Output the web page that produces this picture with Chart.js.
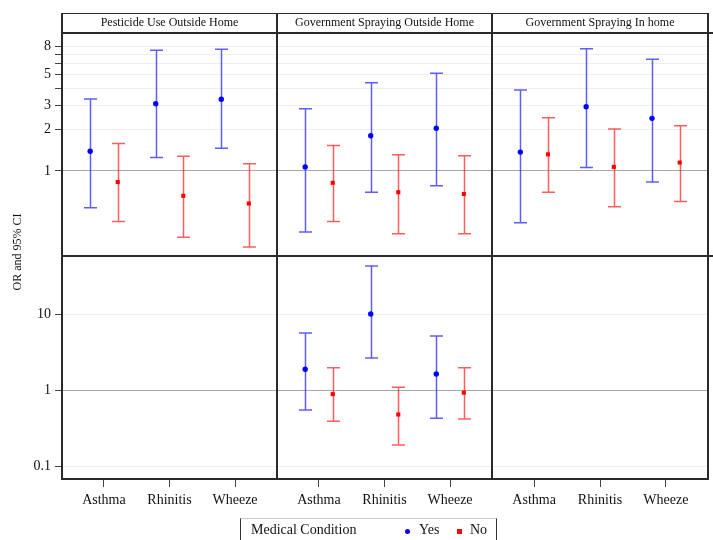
<!DOCTYPE html>
<html>
<head>
<meta charset="utf-8">
<script src="https://cdn.jsdelivr.net/npm/chart.js@4.4.1/dist/chart.umd.min.js"></script>
<style>
  body { margin: 0; background: #fff; }
  #wrap { position: relative; width: 713px; height: 540px; overflow: hidden; font-family: "Liberation Serif", serif; color: #111; }
  canvas { position: absolute; }
  .ln { position: absolute; background: #2a2a2a; }
  .hdr { position: absolute; top: 13px; height: 20px; line-height: 19px; text-align: center; font-size: 12px; }
  #ytitle { position: absolute; left: -43px; top: 244px; width: 120px; height: 16px; line-height: 16px; text-align: center; font-size: 12px; white-space: nowrap; color: #111; transform: rotate(-90deg); transform-origin: 60px 8px; }
  #legend { position: absolute; left: 240px; top: 518px; width: 255px; height: 26px; border-left: 1px solid #333; border-right: 1px solid #333; border-top: 1px solid #ccc; font-size: 14px; }
  #legend span { position: absolute; top: 3px; }
  .dot { position: absolute; top: 10px; width: 5px; height: 5px; border-radius: 50%; background: #0000ff; }
  .sq { position: absolute; top: 10px; width: 5px; height: 5px; background: #ff0000; }
</style>
</head>
<body>
<div id="wrap">
  <canvas id="c00" width="277" height="223" style="left:0;top:33px"></canvas>
  <canvas id="c01" width="215" height="223" style="left:277px;top:33px"></canvas>
  <canvas id="c02" width="216" height="223" style="left:492px;top:33px"></canvas>
  <canvas id="c10" width="277" height="263" style="left:0;top:257px"></canvas>
  <canvas id="c11" width="215" height="263" style="left:277px;top:257px"></canvas>
  <canvas id="c12" width="216" height="263" style="left:492px;top:257px"></canvas>
  <div id="frame"></div>
  <div id="ytitle">OR and 95% CI</div>
  <div id="legend">
    <span style="left:10px">Medical Condition</span>
    <div class="dot" style="left:164px"></div><span style="left:178px">Yes</span>
    <div class="sq" style="left:216px"></div><span style="left:229px">No</span>
  </div>
</div>
<script>
const conditions = ['Asthma', 'Rhinitis', 'Wheeze'];
const panelTitles = ['Pesticide Use Outside Home', 'Government Spraying Outside Home', 'Government Spraying In home'];
const topTicks = [1, 2, 3, 4, 5, 6, 7, 8];
const topLabels = [1, 2, 3, 5, 8];
const bottomTicks = [0.1, 1, 10];

// top row: Pesticide Use Outside Home
const pestYesOR = [1.39, 3.08, 3.32];
const pestYesLow = [0.54, 1.25, 1.46];
const pestYesHigh = [3.33, 7.52, 7.65];
const pestNoOR = [0.83, 0.66, 0.58];
const pestNoLow = [0.43, 0.33, 0.28];
const pestNoHigh = [1.58, 1.28, 1.13];

// top row: Government Spraying Outside Home
const govOutYesOR = [1.07, 1.80, 2.04];
const govOutYesLow = [0.36, 0.70, 0.78];
const govOutYesHigh = [2.83, 4.38, 5.12];
const govOutNoOR = [0.82, 0.70, 0.68];
const govOutNoLow = [0.43, 0.35, 0.35];
const govOutNoHigh = [1.53, 1.31, 1.29];

// top row: Government Spraying In home
const govInYesOR = [1.37, 2.93, 2.41];
const govInYesLow = [0.42, 1.06, 0.83];
const govInYesHigh = [3.88, 7.73, 6.47];
const govInNoOR = [1.32, 1.07, 1.15];
const govInNoLow = [0.70, 0.55, 0.60];
const govInNoHigh = [2.43, 2.02, 2.13];

// bottom row, only the middle panel has data
const row2YesOR = [1.89, 10.1, 1.64];
const row2YesLow = [0.55, 2.66, 0.43];
const row2YesHigh = [5.68, 43.2, 5.18];
const row2NoOR = [0.89, 0.48, 0.93];
const row2NoLow = [0.39, 0.19, 0.42];
const row2NoHigh = [1.98, 1.10, 1.98];

Chart.defaults.font.family = '"Liberation Serif", serif';
Chart.defaults.color = '#111';

// whiskers drawn under the points
const errorBars = {
  id: 'errorBars',
  beforeDatasetsDraw(chart) {
    const { ctx, scales: { x, y } } = chart;
    chart.data.datasets.forEach(ds => {
      ctx.save();
      ctx.strokeStyle = ds.barColor;
      ctx.lineWidth = 1.5;
      ds.data.forEach((p, j) => {
        const px = Math.round(x.getPixelForValue(p.x)) + 0.5;
        const lo = y.getPixelForValue(ds.errLow[j]);
        const hi = y.getPixelForValue(ds.errHigh[j]);
        ctx.beginPath();
        ctx.moveTo(px, lo); ctx.lineTo(px, hi);
        ctx.moveTo(px - 6.5, lo); ctx.lineTo(px + 6.5, lo);
        ctx.moveTo(px - 6.5, hi); ctx.lineTo(px + 6.5, hi);
        ctx.stroke();
      });
      ctx.restore();
    });
  }
};

function series(yesOR, yesLow, yesHigh, noOR, noLow, noHigh) {
  return [
    {
      label: 'Yes',
      data: yesOR.map((v, i) => ({ x: i + 1 - 0.21, y: v })),
      errLow: yesLow, errHigh: yesHigh,
      barColor: 'rgba(40,40,255,0.75)',
      pointStyle: 'circle', pointRadius: 2.7,
      backgroundColor: '#0000ff', borderColor: '#0000ff', borderWidth: 0
    },
    {
      label: 'No',
      data: noOR.map((v, i) => ({ x: i + 1 + 0.21, y: v })),
      errLow: noLow, errHigh: noHigh,
      barColor: 'rgba(255,40,40,0.75)',
      pointStyle: 'rect', pointRadius: 2.9,
      backgroundColor: '#ff0000', borderColor: '#ff0000', borderWidth: 0
    }
  ];
}

function makePanel(id, row, col, datasets) {
  const ticks = row === 0 ? topTicks : bottomTicks;
  new Chart(document.getElementById(id), {
    type: 'scatter',
    data: { datasets },
    plugins: [errorBars],
    options: {
      responsive: false,
      animation: false,
      devicePixelRatio: 1,
      layout: { padding: 0, autoPadding: false },
      plugins: { legend: { display: false }, tooltip: { enabled: false } },
      scales: {
        x: {
          type: 'linear',
          min: 0.36, max: 3.64,
          display: row === 1,
          afterBuildTicks: a => { a.ticks = conditions.map((c, i) => ({ value: i + 1 })); },
          afterFit: a => {
            a.height = row === 1 ? 41 : 0;
            a.paddingLeft = 0; a.paddingRight = 0;
          },
          ticks: { font: { size: 14 }, padding: 5, maxRotation: 0, callback: v => conditions[v - 1] },
          grid: { drawOnChartArea: false, drawTicks: true, tickLength: 8, tickColor: '#444' },
          border: { display: false }
        },
        y: {
          type: 'logarithmic',
          min: row === 0 ? 0.241 : 0.068,
          max: row === 0 ? 10.05 : 56.8,
          afterBuildTicks: a => { a.ticks = ticks.map(v => ({ value: v })); },
          afterFit: a => {
            a.width = col === 0 ? 62 : 0;
            a.paddingTop = 0; a.paddingBottom = 0;
          },
          ticks: {
            display: col === 0,
            font: { size: 14 },
            padding: 4,
            callback: v => (row === 1 || topLabels.includes(v)) ? String(v) : ''
          },
          grid: {
            drawTicks: col === 0,
            tickLength: 7,
            tickColor: '#444',
            color: c => (c.tick && c.tick.value === 1) ? '#a8a8a8' : '#efefef'
          },
          border: { display: false }
        }
      }
    }
  });
}

makePanel('c00', 0, 0, series(pestYesOR, pestYesLow, pestYesHigh, pestNoOR, pestNoLow, pestNoHigh));
makePanel('c01', 0, 1, series(govOutYesOR, govOutYesLow, govOutYesHigh, govOutNoOR, govOutNoLow, govOutNoHigh));
makePanel('c02', 0, 2, series(govInYesOR, govInYesLow, govInYesHigh, govInNoOR, govInNoLow, govInNoHigh));
makePanel('c10', 1, 0, []);
makePanel('c11', 1, 1, series(row2YesOR, row2YesLow, row2YesHigh, row2NoOR, row2NoLow, row2NoHigh));
makePanel('c12', 1, 2, []);

// panel frame and header strips
const frame = document.getElementById('frame');
function line(l, t, w, h) {
  const d = document.createElement('div');
  d.className = 'ln';
  d.style.cssText = `left:${l}px;top:${t}px;width:${w}px;height:${h}px`;
  frame.appendChild(d);
}
const colEdges = [62, 277, 492, 708];
line(62, 13, 646, 1);
line(62, 32, 651, 2);
line(62, 255, 651, 2);
line(62, 478, 647, 2);
colEdges.forEach(x => line(x - 1, 13, 2, 467));
panelTitles.forEach((t, i) => {
  const h = document.createElement('div');
  h.className = 'hdr';
  h.style.left = colEdges[i] + 'px';
  h.style.width = (colEdges[i + 1] - colEdges[i]) + 'px';
  h.textContent = t;
  frame.appendChild(h);
});
</script>
</body>
</html>
